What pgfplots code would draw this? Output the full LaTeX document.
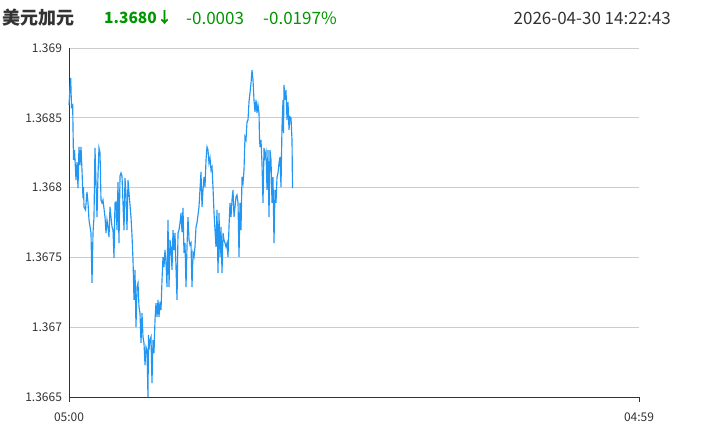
\documentclass[border=0pt]{standalone}
\usepackage{pgfplots}
\pgfplotsset{compat=1.18}
\usepackage{pgfplotstable}
\usepackage{fontspec}
\setmainfont{Noto Sans CJK SC}
\definecolor{linec}{RGB}{33,150,243}
\definecolor{gridc}{RGB}{204,204,204}
\definecolor{upg}{RGB}{0,150,0}
\definecolor{txt}{RGB}{51,51,51}
\pgfplotstableread{
m v
0 1.368592
2.5 1.368713
4.3 1.368785
6.3 1.368577
9.3 1.368592
10.1 1.368434
11.4 1.368198
13.9 1.368269
17.7 1.368054
20.2 1.368183
22.7 1.367997
25.2 1.368291
27.8 1.368162
30.3 1.368291
32.8 1.368126
35.3 1.367926
36.6 1.368004
37.9 1.367861
41.7 1.367840
45.4 1.367969
48.0 1.367890
50.5 1.367768
55.5 1.367675
58.1 1.367317
60.6 1.367675
63.1 1.367789
65.6 1.368284
68.2 1.368033
70.7 1.367789
73.2 1.368090
75.7 1.368284
78.3 1.368248
80.8 1.367911
83.3 1.367890
85.8 1.367911
90.9 1.367789
93.4 1.367675
95.9 1.367768
98.5 1.367718
101.0 1.367646
103.5 1.367861
106.0 1.367789
108.6 1.367718
111.1 1.367696
113.6 1.367496
116.1 1.367890
118.7 1.367897
121.2 1.367696
123.7 1.368040
126.2 1.367603
128.8 1.368083
131.3 1.368105
133.8 1.368083
136.3 1.367890
138.9 1.367696
141.4 1.368069
143.9 1.367947
146.4 1.367696
149.0 1.368054
151.5 1.367961
156.5 1.367789
159.0 1.367660
161.6 1.367481
164.1 1.367195
166.6 1.367410
169.1 1.367001
171.7 1.367288
174.2 1.367317
176.7 1.367145
179.2 1.367102
181.8 1.366887
184.3 1.367102
186.8 1.366930
189.3 1.366887
191.9 1.366729
194.4 1.366858
196.9 1.366837
199.4 1.366500
200.7 1.366944
202.0 1.366837
204.5 1.366908
207.0 1.366930
209.5 1.366600
212.1 1.366908
214.6 1.366815
217.1 1.367052
219.6 1.367173
222.2 1.367073
224.7 1.367195
227.2 1.367073
229.7 1.367181
232.3 1.367123
234.8 1.367338
237.3 1.367503
239.8 1.367431
242.4 1.367553
244.9 1.367460
247.4 1.367288
249.9 1.367768
252.5 1.367288
255.0 1.367625
257.5 1.367575
260.0 1.367410
262.6 1.367696
265.1 1.367553
267.6 1.367675
270.1 1.367431
272.7 1.367195
275.2 1.367675
277.7 1.367696
280.2 1.367746
282.8 1.367818
285.3 1.367682
287.8 1.367854
290.3 1.367532
292.9 1.367603
295.4 1.367288
297.9 1.367575
300.4 1.367789
303.0 1.367625
305.5 1.367589
308.0 1.367603
310.5 1.367288
313.1 1.367532
315.6 1.367503
318.1 1.367575
320.6 1.367718
323.1 1.367746
328.2 1.367861
333.2 1.368112
335.8 1.367861
338.3 1.367983
340.8 1.368076
343.3 1.368004
345.9 1.368198
348.4 1.368291
350.9 1.368269
353.4 1.368176
356.0 1.368212
358.5 1.368126
361.0 1.368148
363.5 1.368004
366.1 1.367818
368.6 1.367696
371.1 1.367575
373.6 1.367840
376.2 1.367388
378.7 1.367818
381.2 1.367503
383.7 1.367718
386.3 1.367388
388.8 1.367675
391.3 1.367625
393.8 1.367603
396.4 1.367575
398.9 1.367603
401.4 1.367503
403.9 1.367718
406.5 1.367890
409.0 1.367789
411.5 1.367911
414.0 1.367983
416.6 1.367789
419.1 1.367861
421.6 1.367933
424.1 1.367947
426.7 1.367890
429.2 1.367503
431.7 1.367890
434.2 1.367696
436.8 1.368076
439.3 1.368033
441.8 1.368126
444.3 1.368362
446.8 1.368341
449.4 1.368470
451.9 1.368484
454.4 1.368613
456.9 1.368678
459.5 1.368749
462.0 1.368842
464.5 1.368771
467.0 1.368628
469.6 1.368542
472.1 1.368628
474.6 1.368534
477.1 1.368592
479.7 1.368534
480.9 1.368355
482.2 1.368291
484.7 1.368341
487.2 1.368176
489.8 1.367890
492.3 1.368284
494.8 1.368219
497.3 1.368255
499.9 1.367983
502.4 1.368269
504.9 1.367789
507.4 1.368269
510.0 1.368198
512.5 1.367890
515.0 1.368076
517.5 1.367603
520.1 1.367983
522.6 1.367890
525.1 1.368076
527.6 1.368105
530.2 1.368176
532.7 1.368219
535.2 1.368004
537.7 1.368434
540.3 1.368628
541.5 1.368391
542.8 1.368735
545.3 1.368628
547.8 1.368699
550.4 1.368484
552.9 1.368613
555.4 1.368413
557.9 1.368506
560.5 1.368499
563.0 1.368341
564.2 1.367997
}\fx
\begin{document}
\begin{tikzpicture}
\useasboundingbox (0pt,0pt) rectangle (701pt,433pt);
\begin{axis}[
  at={(69pt,36pt)}, anchor=south west, scale only axis,
  width=570pt, height=349pt,
  xmin=0, xmax=1439, ymin=1.3665, ymax=1.369,
  xtick={0,1439}, xticklabels={05:00,04:59},
  ytick={1.3665,1.367,1.3675,1.368,1.3685,1.369},
  yticklabels={1.3665,1.367,1.3675,1.368,1.3685,1.369},
  ymajorgrids, grid style={gridc, line width=0.8pt},
  axis x line*=bottom, axis y line*=left,
  axis line style={-, draw=txt, line width=0.9pt},
  tick align=outside, major tick length=5pt,
  xtick style={draw=txt, line width=0.9pt},
  ytick style={draw=none},
  tick label style={font=\fontsize{12}{14}\selectfont, text=txt},
  xticklabel style={yshift=-7pt},
  yticklabel style={xshift=1.5pt},
  clip=false,
]
\addplot[linec, line width=1.15pt] table[x=m, y=v] {\fx};
\end{axis}
\node[anchor=west, inner sep=0, text=txt, font=\bfseries\fontsize{18}{20}\selectfont] at (2pt,415pt) {美元加元};
\node[anchor=west, inner sep=0, text=upg, font=\bfseries\fontsize{15.5}{18}\selectfont] at (104pt,415pt) {1.3680↓};
\node[anchor=west, inner sep=0, text=upg, font=\fontsize{17}{19}\selectfont] at (186pt,415pt) {-0.0003};
\node[anchor=west, inner sep=0, text=upg, font=\fontsize{17}{19}\selectfont] at (263pt,415pt) {-0.0197\%};
\node[anchor=east, inner sep=0, text=txt, font=\fontsize{17}{19}\selectfont] at (671pt,415pt) {2026-04-30 14:22:43};
\end{tikzpicture}
\end{document}
